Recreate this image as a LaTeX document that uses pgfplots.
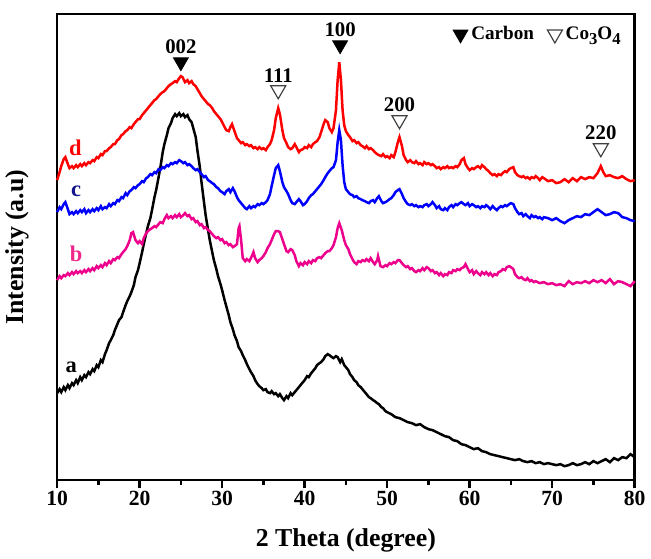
\documentclass[border=0pt]{standalone}
\usepackage{fontspec}
\setmainfont{Liberation Serif}
\usepackage{pgfplots}
\pgfplotsset{compat=1.18}
\usepackage{pgfplotstable}

% XRD patterns, intensity in arbitrary units (curves offset by hand)
\pgfplotstableread{
x y
10.0 87
10.3 91
10.5 88
10.8 93
11.0 90
11.3 95
11.5 92
11.8 97
12.0 95
12.3 100
12.5 97
12.8 103
13.0 100
13.3 105
13.5 103
13.8 108
14.0 106
14.3 111
14.5 109
14.8 115
15.0 113
15.3 120
15.5 118
15.8 126
16.0 130
16.3 137
16.5 140
16.8 145
17.0 150
17.3 156
17.5 160
17.8 163
18.0 168
18.3 175
18.5 179
18.8 184
19.0 188
19.3 195
19.5 203
19.8 210
20.0 217
20.3 228
20.5 236
20.8 247
21.0 254
21.3 262
21.5 270
21.8 283
22.0 290
22.3 303
22.5 312
22.8 328
23.0 336
23.3 345
23.5 352
23.8 357
24.0 362
24.3 366
24.5 364
24.8 367
25.0 364
25.3 366
25.5 363
25.8 365
26.0 361
26.3 358
26.5 352
26.8 343
27.0 330
27.3 313
27.5 298
27.8 278
28.0 265
28.3 250
28.5 240
28.8 228
29.0 220
29.3 211
29.5 204
29.8 196
30.0 190
30.3 180
30.5 174
30.8 165
31.0 158
31.3 151
31.5 145
31.8 139
32.0 133
32.3 129
32.5 125
32.8 120
33.0 116
33.3 111
33.5 108
33.8 104
34.0 100
34.3 96
34.5 94
34.8 92
35.0 90
35.3 91
35.5 88
35.8 87
36.0 89
36.3 86
36.5 87
36.8 84
37.0 86
37.3 82
37.5 80
37.8 84
38.0 82
38.3 87
38.5 85
38.8 88
39.0 90
39.3 93
39.5 95
39.8 98
40.0 100
40.3 104
40.5 103
40.8 107
41.0 109
41.3 112
41.5 115
41.8 117
42.0 118
42.3 121
42.5 124
42.8 126
43.0 125
43.3 123
43.5 122
43.8 124
44.0 123
44.3 118
44.5 121
44.8 115
45.0 113
45.3 110
45.5 106
45.8 103
46.0 100
46.3 98
46.5 95
46.8 93
47.0 91
47.3 88
47.5 86
47.8 83
48.0 82
48.3 80
48.5 79
48.8 77
49.0 76
49.3 73
49.5 72
49.8 69
50.0 68
50.5 66
51.0 63
51.5 62
52.0 60
52.5 58
53.0 57
53.5 55
54.0 56
54.5 53
55.0 51
55.5 50
56.0 48
56.5 46
57.0 44
57.5 43
58.0 40
58.5 39
59.0 36
59.5 35
60.0 33
60.5 31
61.0 32
61.5 29
62.0 28
62.5 26
63.0 25
63.5 24
64.0 23
64.5 22
65.0 21
65.5 20
66.0 21
66.5 19
67.0 18
67.5 19
68.0 17
68.5 18
69.0 16
69.5 17
70.0 16
70.5 15
71.0 16
71.5 14
72.0 15
72.5 17
73.0 15
73.5 16
74.0 18
74.5 16
75.0 19
75.5 17
76.0 19
76.5 21
77.0 18
77.5 22
78.0 20
78.5 23
79.0 22
79.5 26
80.0 23
}\curvea

\pgfplotstableread{
x y
10.0 200
10.3 204
10.5 202
10.8 205
11.0 204
11.3 207
11.5 205
11.8 208
12.0 206
12.3 209
12.5 207
12.8 209
13.0 207
13.3 210
13.5 208
13.8 211
14.0 209
14.3 212
14.5 210
14.8 214
15.0 212
15.3 215
15.5 213
15.8 217
16.0 215
16.3 219
16.5 217
16.8 221
17.0 220
17.3 223
17.5 222
17.8 226
18.0 228
18.3 231
18.5 234
18.8 240
19.0 247
19.2 248
19.5 240
19.8 237
20.0 239
20.3 236
20.5 242
20.8 247
21.0 249
21.3 251
21.5 252
21.8 254
22.0 253
22.3 256
22.5 258
22.8 257
23.0 261
23.3 265
23.5 262
23.8 264
24.0 262
24.3 265
24.5 263
24.8 266
25.0 263
25.3 265
25.5 267
25.8 264
26.0 265
26.3 261
26.5 262
26.8 258
27.0 259
27.3 255
27.5 256
27.8 252
28.0 253
28.3 250
28.5 249
28.8 246
29.0 244
29.3 242
29.5 243
29.8 240
30.0 241
30.3 237
30.5 238
30.8 235
31.0 236
31.3 233
31.5 234
31.8 236
32.0 252
32.1 254
32.3 240
32.5 222
32.8 219
33.0 221
33.3 219
33.6 224
33.8 228
34.0 222
34.3 218
34.5 220
34.8 222
35.0 224
35.3 228
35.5 232
35.8 236
36.0 240
36.3 246
36.5 249
36.8 249
37.0 248
37.3 241
37.5 236
37.8 229
38.0 228
38.3 231
38.5 230
38.8 225
39.0 219
39.3 214
39.5 217
39.8 215
40.0 218
40.3 216
40.5 219
40.8 217
41.0 220
41.3 219
41.5 222
41.8 223
42.0 222
42.3 225
42.5 227
42.8 229
43.0 229
43.3 232
43.5 235
43.8 243
44.0 252
44.2 257
44.5 250
44.8 240
45.0 235
45.3 231
45.5 226
45.8 221
46.0 218
46.3 216
46.5 219
46.8 218
47.0 220
47.3 219
47.5 221
47.8 219
48.0 222
48.3 218
48.5 216
48.8 220
48.9 224
49.2 214
49.5 213
49.8 215
50.0 214
50.3 217
50.5 216
50.8 218
51.0 217
51.3 220
51.5 220
51.8 217
52.0 215
52.3 213
52.5 214
52.8 211
53.0 212
53.3 209
53.5 208
53.8 210
54.0 209
54.3 212
54.5 210
54.8 213
55.0 212
55.3 209
55.5 210
55.8 207
56.0 208
56.3 205
56.5 207
56.8 204
57.0 206
57.3 205
57.5 208
57.8 207
58.0 210
58.3 209
58.5 211
58.8 210
59.0 212
59.3 213
59.5 216
59.8 211
60.0 208
60.3 210
60.5 206
60.8 209
61.0 207
61.3 205
61.5 208
61.8 206
62.0 208
62.3 205
62.5 207
62.8 204
63.0 206
63.3 205
63.5 208
63.8 209
64.0 211
64.3 210
64.5 213
64.8 214
65.0 213
65.3 211
65.5 206
65.8 203
66.0 202
66.3 203
66.5 201
66.8 200
67.0 202
67.3 199
67.5 200
67.8 198
68.0 199
68.5 197
69.0 198
69.5 196
70.0 197
70.5 195
71.0 196
71.5 194
72.0 199
72.5 196
73.0 198
73.5 197
74.0 199
74.5 197
75.0 200
75.5 198
76.0 200
76.5 197
77.0 201
77.5 196
78.0 199
78.5 198
79.0 196
79.5 194
80.0 199
}\curveb

\pgfplotstableread{
x y
10.0 268
10.3 273
10.5 271
10.8 276
11.0 278
11.3 271
11.5 266
11.8 268
12.0 266
12.3 269
12.5 267
12.8 270
13.0 268
13.3 271
13.5 267
13.8 270
14.0 268
14.3 271
14.5 269
14.8 272
15.0 270
15.3 274
15.5 271
15.8 273
16.0 272
16.3 276
16.5 274
16.8 277
17.0 276
17.3 280
17.5 279
17.8 283
18.0 282
18.3 287
18.5 285
18.8 289
19.0 290
19.3 293
19.5 292
19.8 295
20.0 296
20.3 299
20.5 298
20.8 302
21.0 303
21.3 306
21.5 305
21.8 308
22.0 307
22.3 311
22.5 310
22.8 313
23.0 312
23.3 315
23.5 314
23.8 317
24.0 316
24.3 318
24.5 317
24.8 320
25.0 319
25.3 317
25.5 318
25.8 315
26.0 316
26.3 314
26.5 312
26.8 310
27.0 311
27.3 308
27.5 306
27.8 303
28.0 304
28.3 300
28.5 299
28.8 297
29.0 296
29.3 293
29.5 292
29.8 289
30.0 288
30.3 286
30.5 289
30.8 291
31.0 288
31.3 292
31.5 289
31.8 283
32.0 280
32.3 277
32.5 275
32.8 272
33.0 271
33.3 274
33.5 272
33.8 274
34.0 273
34.3 276
34.5 275
34.8 277
35.0 276
35.3 278
35.5 280
35.8 286
36.0 294
36.3 305
36.5 312
36.8 315
37.0 309
37.3 298
37.5 293
37.8 289
38.0 286
38.3 280
38.5 277
38.8 276
39.0 278
39.3 281
39.5 279
39.8 275
40.0 276
40.3 279
40.5 282
40.8 285
41.0 286
41.3 289
41.5 291
41.8 294
42.0 296
42.3 300
42.5 303
42.8 307
43.0 309
43.3 312
43.5 313
43.8 320
44.0 338
44.2 350
44.4 340
44.6 315
44.8 298
45.0 291
45.3 288
45.5 286
45.8 285
46.0 283
46.3 284
46.5 282
46.8 281
47.0 280
47.3 279
47.5 278
47.8 277
48.0 279
48.3 280
48.5 278
48.8 282
49.0 284
49.3 279
49.5 277
49.8 278
50.0 279
50.3 281
50.5 282
50.8 285
51.0 288
51.3 290
51.5 291
51.8 286
52.0 282
52.3 278
52.5 276
52.8 275
53.0 276
53.3 274
53.5 275
53.8 273
54.0 274
54.3 273
54.5 275
54.8 276
55.0 274
55.3 276
55.5 278
55.8 275
56.0 272
56.3 274
56.5 271
56.8 270
57.0 272
57.3 270
57.5 273
57.8 275
58.0 273
58.3 276
58.5 275
58.8 277
59.0 278
59.3 276
59.5 275
59.8 277
60.0 274
60.3 276
60.5 275
60.8 273
61.0 274
61.3 272
61.5 274
61.8 273
62.0 275
62.3 273
62.5 271
62.8 274
63.0 272
63.3 270
63.5 272
63.8 274
64.0 273
64.3 275
64.5 274
64.8 276
65.0 277
65.3 276
65.5 272
65.8 268
66.0 266
66.3 267
66.5 264
66.8 266
67.0 264
67.3 262
67.5 265
67.8 263
68.0 264
68.3 262
68.5 263
68.8 261
69.0 263
69.5 262
70.0 260
70.5 262
71.0 259
71.5 257
72.0 260
72.5 262
73.0 264
73.5 263
74.0 266
74.5 265
75.0 268
75.5 271
76.0 268
76.5 265
77.0 266
77.5 268
78.0 267
78.5 263
79.0 262
79.5 260
80.0 259
}\curvec

\pgfplotstableread{
x y
10.0 300
10.3 308
10.5 314
10.8 321
11.0 323
11.3 316
11.5 312
11.8 314
12.0 312
12.3 315
12.5 313
12.8 316
13.0 314
13.3 317
13.5 315
13.8 318
14.0 317
14.3 320
14.5 319
14.8 323
15.0 322
15.3 326
15.5 325
15.8 329
16.0 329
16.3 332
16.5 333
16.8 336
17.0 336
17.3 340
17.5 341
17.8 345
18.0 346
18.3 349
18.5 350
18.8 353
19.0 352
19.3 356
19.5 358
19.8 361
20.0 361
20.3 365
20.5 367
20.8 370
21.0 372
21.3 375
21.5 377
21.8 380
22.0 381
22.3 384
22.5 386
22.8 388
23.0 389
23.3 392
23.5 394
23.8 396
24.0 397
24.3 399
24.5 398
24.8 402
25.0 404
25.2 403
25.5 398
25.8 400
26.0 397
26.3 399
26.5 396
26.8 394
27.0 391
27.3 387
27.5 384
27.8 381
28.0 379
28.3 376
28.5 375
28.8 372
29.0 369
29.3 366
29.5 364
29.8 361
30.0 358
30.3 353
30.5 350
30.8 349
31.0 353
31.2 356
31.5 349
31.8 342
32.0 340
32.3 337
32.5 338
32.8 335
33.0 336
33.3 334
33.5 335
33.8 332
34.0 333
34.3 331
34.5 333
34.8 331
35.0 332
35.3 330
35.5 333
35.8 336
36.0 340
36.3 350
36.5 362
36.8 372
37.0 366
37.3 350
37.5 342
37.8 337
38.0 333
38.3 331
38.5 332
38.8 336
39.0 333
39.3 328
39.5 330
39.8 331
40.0 333
40.3 332
40.5 335
40.8 333
41.0 336
41.3 338
41.5 339
41.8 343
42.0 348
42.3 356
42.5 360
42.8 358
43.0 352
43.3 348
43.5 352
43.8 370
44.0 400
44.2 418
44.4 400
44.6 370
44.8 355
45.0 349
45.3 345
45.5 343
45.8 339
46.0 340
46.3 337
46.5 338
46.8 335
47.0 334
47.3 332
47.5 334
47.8 331
48.0 332
48.3 330
48.5 328
48.8 326
49.0 325
49.3 324
49.5 326
49.8 323
50.0 324
50.3 322
50.5 325
50.8 323
51.0 328
51.3 338
51.5 343
51.8 334
52.0 325
52.3 320
52.5 318
52.8 320
53.0 318
53.3 317
53.5 319
53.8 316
54.0 317
54.3 315
54.5 318
54.8 316
55.0 317
55.3 315
55.5 316
55.8 314
56.0 312
56.3 313
56.5 311
56.8 313
57.0 312
57.3 314
57.5 312
57.8 313
58.0 312
58.3 314
58.5 313
58.8 316
59.0 320
59.3 322
59.5 316
59.8 312
60.0 310
60.3 312
60.5 311
60.8 313
61.0 314
61.3 312
61.5 315
61.8 313
62.0 311
62.3 309
62.5 307
62.8 305
63.0 306
63.3 304
63.5 306
63.8 305
64.0 307
64.3 309
64.5 308
64.8 311
65.0 312
65.3 313
65.5 308
65.8 305
66.0 304
66.3 303
66.5 304
66.8 302
67.0 303
67.3 301
67.5 303
67.8 302
68.0 304
68.3 302
68.5 300
68.8 303
69.0 302
69.5 299
70.0 300
70.5 297
71.0 298
71.5 301
72.0 298
72.5 302
73.0 299
73.5 303
74.0 301
74.5 303
75.0 302
75.5 307
75.9 314
76.2 308
76.5 304
77.0 305
77.5 303
78.0 302
78.5 304
79.0 301
79.5 299
80.0 300
}\curved

\definecolor{labc}{RGB}{20,20,140}
\definecolor{labb}{RGB}{240,40,140}

\newcommand{\sub}[1]{\raisebox{-0.55ex}{\fontsize{10}{10}\selectfont #1}}

\begin{document}
\begin{tikzpicture}
\begin{axis}[
    width=347pt, height=280pt, scale only axis,
    xmin=10, xmax=80, ymin=0, ymax=466,
    clip=false,
    axis line style={line width=1.6pt},
    xtick={10,20,...,80}, minor x tick num=1,
    ytick=\empty,
    xtick pos=bottom, tick align=outside,
    major tick length=5pt, minor tick length=3pt,
    every tick/.style={line width=1.4pt, black},
    /pgf/number format/assume math mode=true,
    ticklabel style={font=\fontsize{13}{13}\selectfont\bfseries},
    xticklabel style={yshift=2pt},
    xlabel={2 Theta (degree)},
    ylabel={Intensity (a.u)},
    label style={font=\fontsize{15.5}{15.5}\selectfont\bfseries},
    xlabel style={at={(axis description cs:0.5,-0.13)}, anchor=center},
    ylabel style={at={(axis description cs:-0.069,0.5)}, anchor=center},
    legend columns=2,
    legend style={draw=none, fill=none, at={(0.985,0.985)}, anchor=north east,
        font=\fontsize{11.5}{11.5}\selectfont\bfseries, inner sep=1pt,
        /tikz/every even column/.append style={column sep=6pt}},
]
\addplot[black, line width=1.5pt, forget plot] table[x=x, y=y] {\curvea};
\addplot[magenta, line width=1.5pt, forget plot] table[x=x, y=y] {\curveb};
\addplot[blue, line width=1.5pt, forget plot] table[x=x, y=y] {\curvec};
\addplot[red, line width=1.5pt, forget plot] table[x=x, y=y] {\curved};

% peak markers
\addplot[only marks, mark=triangle*, mark size=5.2pt,
    mark options={rotate=180, fill=black, draw=black}]
    coordinates {(25.0,418) (44.3,435)};
\addlegendentry{Carbon}
\addplot[only marks, mark=triangle, mark size=5.2pt,
    mark options={rotate=180, draw=black!75, line width=0.7pt}]
    coordinates {(36.8,390) (51.5,360) (75.9,332)};
\addlegendentry{Co\sub{3}O\sub{4}}

\begin{scope}[every node/.style={font=\fontsize{12.5}{12.5}\selectfont\bfseries, inner sep=1pt, anchor=south}]
\node at (axis cs:25.0,424) {002};
\node at (axis cs:36.8,396) {111};
\node at (axis cs:44.3,441) {100};
\node at (axis cs:51.5,366) {200};
\node at (axis cs:75.9,338) {220};
\end{scope}

\begin{scope}[every node/.style={font=\fontsize{13.5}{13.5}\selectfont\bfseries, inner sep=0pt}]
\node[red] at (axis cs:12.2,332) {d};
\node[labc] at (axis cs:12.3,289) {c};
\node[labb] at (axis cs:12.3,226) {b};
\node[black] at (axis cs:11.7,113) {a};
\end{scope}
\end{axis}
\path (current axis.north) ++(0,8.4pt) -- ++(0,0.1pt);
\end{tikzpicture}
\end{document}
